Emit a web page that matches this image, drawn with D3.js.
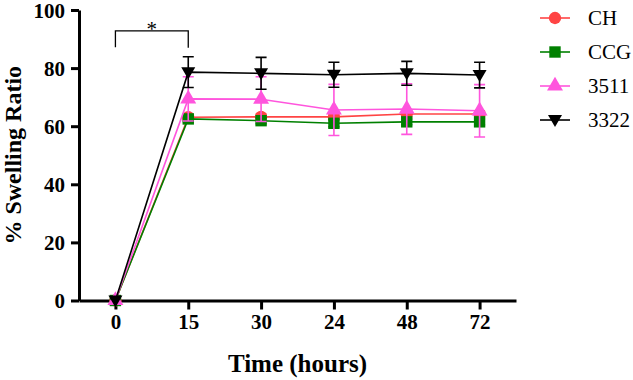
<!DOCTYPE html>
<html>
<head>
<meta charset="utf-8">
<script src="https://cdn.jsdelivr.net/npm/d3@7"></script>
<style>
  body { margin: 0; background: #fff; }
  svg { display: block; }
</style>
</head>
<body>
<div id="chart"></div>
<script>
const times = ["0", "15", "30", "24", "48", "72"];
const yTicks = [0, 20, 40, 60, 80, 100];
const seriesNames = ["CH", "CCG", "3511", "3322"];
const seriesColors = ["#ff4444", "#008000", "#ff55dd", "#000000"];
const seriesSymbols = ["circle", "square", "triangleUp", "triangleDown"];

const chMean = [0, 63.1, 63.2, 63.2, 64.2, 64.2];
const chErr = [0, 1.0, 1.0, 1.0, 1.0, 1.0];
const ccgMean = [0, 62.5, 61.9, 61.0, 61.5, 61.5];
const ccgErr = [0, 1.0, 1.0, 1.2, 1.0, 1.0];
const s3511Mean = [0, 69.4, 69.3, 65.6, 65.9, 65.3];
const s3511Err = [0, 7.6, 7.7, 8.8, 8.7, 9.0];
const s3322Mean = [0, 78.6, 78.2, 77.7, 78.2, 77.6];
const s3322Err = [0, 5.3, 5.5, 4.3, 4.1, 4.4];

const means = [chMean, ccgMean, s3511Mean, s3322Mean];
const errs = [chErr, ccgErr, s3511Err, s3322Err];

const width = 633, height = 380;
const margin = { top: 10, right: 117, bottom: 79.5, left: 79 };

const svg = d3.select("#chart").append("svg")
  .attr("width", width).attr("height", height);

const x = d3.scalePoint()
  .domain(times)
  .range([margin.left, width - margin.right])
  .padding(0.5);

const y = d3.scaleLinear()
  .domain([0, 100])
  .range([height - margin.bottom, margin.top]);

const font = "'Liberation Serif', 'Times New Roman', serif";

// axes
const xAxis = svg.append("g")
  .attr("transform", `translate(0,${y(0)})`)
  .call(d3.axisBottom(x).tickSize(9).tickPadding(5).tickSizeOuter(0));
const yAxis = svg.append("g")
  .attr("transform", `translate(${margin.left},0)`)
  .call(d3.axisLeft(y).tickValues(yTicks).tickSize(8).tickPadding(6).tickSizeOuter(0));

[xAxis, yAxis].forEach(g => {
  g.select(".domain").attr("stroke", "#000").attr("stroke-width", 3);
  g.selectAll(".tick line").attr("stroke", "#000").attr("stroke-width", 3);
  g.selectAll(".tick text")
    .attr("fill", "#000")
    .style("font-family", font)
    .style("font-weight", "bold")
    .style("font-size", "21px");
});
yAxis.selectAll(".tick text").attr("dy", "0.34em");

// axis titles
svg.append("text")
  .attr("x", (margin.left + width - margin.right) / 2)
  .attr("y", 372)
  .attr("text-anchor", "middle")
  .style("font-family", font)
  .style("font-weight", "bold")
  .style("font-size", "25px")
  .text("Time (hours)");

svg.append("text")
  .attr("transform", `translate(21,${y(50)}) rotate(-90)`)
  .attr("text-anchor", "middle")
  .style("font-family", font)
  .style("font-weight", "bold")
  .style("font-size", "24px")
  .text("% Swelling Ratio");

// significance bracket between 0 and 15
const bx0 = x("0"), bx1 = x("15");
svg.append("path")
  .attr("d", `M${bx0},${y(87.2)}V${y(92.8)}H${bx1}V${y(87)}`)
  .attr("fill", "none")
  .attr("stroke", "#000")
  .attr("stroke-width", 1.3);
svg.append("text")
  .attr("x", (bx0 + bx1) / 2)
  .attr("y", 36)
  .attr("text-anchor", "middle")
  .style("font-family", font)
  .style("font-size", "21px")
  .text("*");

function symbolPath(kind) {
  if (kind === "circle") return d3.symbol(d3.symbolCircle, 120)();
  if (kind === "square") return d3.symbol(d3.symbolSquare, 130)();
  if (kind === "triangleUp") return d3.symbol(d3.symbolTriangle, 110)();
  return "M-7,-5L7,-5L0,7Z";
}

const line = d3.line()
  .x((d, i) => x(times[i]))
  .y(d => y(d));

const capW = 5.5;
seriesNames.forEach((name, s) => {
  const g = svg.append("g");
  const color = seriesColors[s];
  // error bars
  means[s].forEach((m, i) => {
    const e = errs[s][i];
    if (e <= 0) return;
    const cx = x(times[i]);
    g.append("path")
      .attr("d", `M${cx},${y(m - e)}V${y(m + e)}M${cx - capW},${y(m + e)}H${cx + capW}M${cx - capW},${y(m - e)}H${cx + capW}`)
      .attr("stroke", color)
      .attr("stroke-width", 1.6)
      .attr("fill", "none");
  });
  g.append("path")
    .datum(means[s])
    .attr("d", line)
    .attr("fill", "none")
    .attr("stroke", color)
    .attr("stroke-width", 1.6);
  g.selectAll(".pt")
    .data(means[s])
    .join("path")
    .attr("transform", (d, i) => `translate(${x(times[i])},${y(d)})`)
    .attr("d", symbolPath(seriesSymbols[s]))
    .attr("fill", color);
});

// legend
const legend = svg.append("g").attr("transform", "translate(540,18)");
seriesNames.forEach((name, s) => {
  const row = legend.append("g").attr("transform", `translate(0,${s * 34})`);
  row.append("line")
    .attr("x1", 0).attr("x2", 30)
    .attr("stroke", seriesColors[s]).attr("stroke-width", 1.6);
  row.append("path")
    .attr("transform", "translate(15,0)")
    .attr("d", symbolPath(seriesSymbols[s]))
    .attr("fill", seriesColors[s]);
  row.append("text")
    .attr("x", 48)
    .attr("dy", "0.35em")
    .style("font-family", font)
    .style("font-size", "21px")
    .text(name);
});
</script>
</body>
</html>
